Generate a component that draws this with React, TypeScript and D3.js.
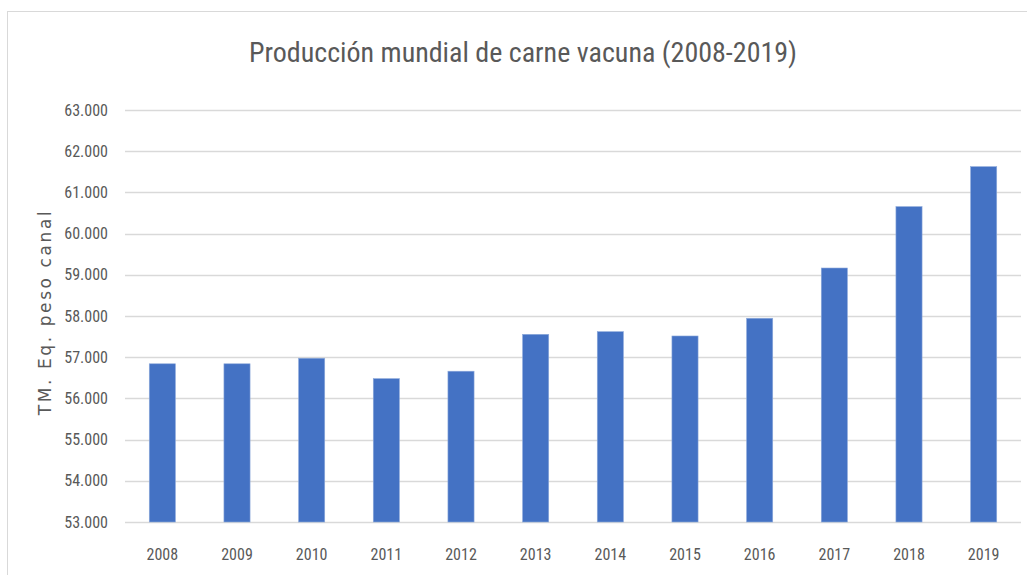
import React from "react";
import * as d3 from "d3";

const years = ["2008","2009","2010","2011","2012","2013","2014","2015","2016","2017","2018","2019"];
const production = [56840, 56840, 56975, 56480, 56660, 57555, 57620, 57515, 57945, 59165, 60655, 61625];
const yTicks = [53000,54000,55000,56000,57000,58000,59000,60000,61000,62000,63000];
const title = "Producción mundial de carne vacuna (2008-2019)";
const yLabel = "TM. Eq. peso canal";

const W = 1027, H = 575;
const plot = { left: 125, right: 1021, top: 110, bottom: 522 };
const grey = "#595959";
const narrow = "'Liberation Sans Narrow', 'Arial Narrow', 'Roboto Condensed', 'Open Sans', sans-serif";

const fmt = (v: number) => d3.format(",")(v).replace(/,/g, ".");

export default function App() {
  const x = d3.scaleBand<string>().domain(years).range([plot.left, plot.right]).paddingInner(0.65).paddingOuter(0.325);
  const y = d3.scaleLinear().domain([53000, 63000]).range([plot.bottom, plot.top]);
  return (
    <svg width={W} height={H} style={{ position: "absolute", left: 0, top: 0, background: "#fff" }}>
      <rect x={7.5} y={11.5} width={W + 10} height={H + 10} fill="#fff" stroke="#d9d9d9" strokeWidth={1} />
      <text x={523} y={62} textAnchor="middle" fontFamily={narrow} fontSize={28} fill={grey}>{title}</text>
      {yTicks.map(t => (
        <g key={t}>
          <line x1={plot.left} x2={plot.right} y1={Math.round(y(t)) + 0.5} y2={Math.round(y(t)) + 0.5} stroke="#d9d9d9" strokeWidth={1.5} />
          <text x={108} y={y(t)} dy="0.35em" textAnchor="end" fontFamily={narrow} fontSize={16} fill={grey}>{fmt(t)}</text>
        </g>
      ))}
      {years.map((yr, i) => (
        <g key={yr}>
          <rect x={x(yr)} y={y(production[i])} width={x.bandwidth()} height={y(53000) - y(production[i])} fill="#4472C4" stroke="#8eaadb" strokeWidth={0.6} />
          <text x={(x(yr) as number) + x.bandwidth() / 2} y={560} textAnchor="middle" fontFamily={narrow} fontSize={16} fill={grey}>{yr}</text>
        </g>
      ))}
      <text transform={`translate(51,${(plot.top + plot.bottom) / 2 - 4}) rotate(-90)`} textAnchor="middle" fontFamily="'DejaVu Sans', Verdana, sans-serif" fontSize={17} letterSpacing={2.6} fill={grey}>{yLabel}</text>
    </svg>
  );
}
